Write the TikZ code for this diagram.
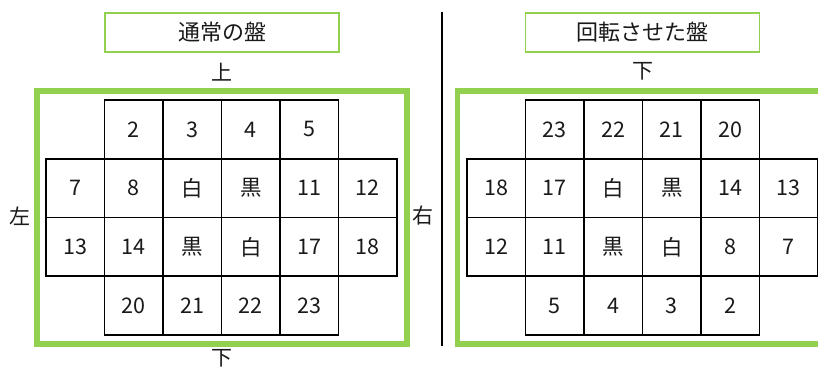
\documentclass[tikz,border=0pt]{standalone}
\usepackage{fontspec}
\setmainfont{Noto Sans CJK JP}
\definecolor{lgreen}{HTML}{92D050}
\definecolor{ink}{HTML}{1A1A1A}
\begin{document}
\begin{tikzpicture}[x=1pt,y=-1pt,
  cell/.style={draw=black, line width=1.5pt, minimum width=58.5pt, minimum height=58.7pt, inner sep=0pt, text=ink, font=\fontsize{21.5}{25}\selectfont},
  frame/.style={draw=lgreen, line width=5.5pt, minimum width=370pt, minimum height=253pt, inner sep=0pt},
  titlebox/.style={draw=lgreen, line width=1.8pt, minimum width=234pt, minimum height=39pt, inner sep=0pt, text=ink, font=\fontsize{22}{26}\selectfont},
  side/.style={text=ink, inner sep=0pt, font=\fontsize{21}{25}\selectfont}]
\useasboundingbox (0,0) rectangle (818,369);
\clip (0,0) rectangle (818,369);
\fill[white] (0,0) rectangle (818,369);
% left board
\node[titlebox] (Ltitle) at (222,32.5) {通常の盤};
\node[side] (Lup) at (222,72) {上};
\node[frame] (Lframe) at (222,217.5) {};
\foreach \r/\c/\t in {1/2/2,1/3/3,1/4/4,1/5/5,
  2/1/7,2/2/8,2/3/白,2/4/黒,2/5/11,2/6/12,
  3/1/13,3/2/14,3/3/黒,3/4/白,3/5/17,3/6/18,
  4/2/20,4/3/21,4/4/22,4/5/23}
  \node[cell] (L\r\c) at ({46+58.5*(\c-0.5)},{100+58.75*(\r-0.5)}) {\t};
\node[side] (Lleft) at (20,216) {左};
\node[side] (Lright) at (423,216) {右};
\node[side] (Ldown) at (222,358) {下};
% divider
\coordinate (divtop) at (442,12);
\coordinate (divbot) at (442,346);
\draw[line width=1.2pt, black] (divtop) -- (divbot);
% right board
\node[titlebox] (Rtitle) at (642.5,32.5) {回転させた盤};
\node[side] (Rup) at (642.5,71) {下};
\node[frame] (Rframe) at (642.5,217.5) {};
\foreach \r/\c/\t in {1/2/23,1/3/22,1/4/21,1/5/20,
  2/1/18,2/2/17,2/3/白,2/4/黒,2/5/14,2/6/13,
  3/1/12,3/2/11,3/3/黒,3/4/白,3/5/8,3/6/7,
  4/2/5,4/3/4,4/4/3,4/5/2}
  \node[cell] (R\r\c) at ({467+58.5*(\c-0.5)},{100+58.75*(\r-0.5)}) {\t};
\end{tikzpicture}
\end{document}
